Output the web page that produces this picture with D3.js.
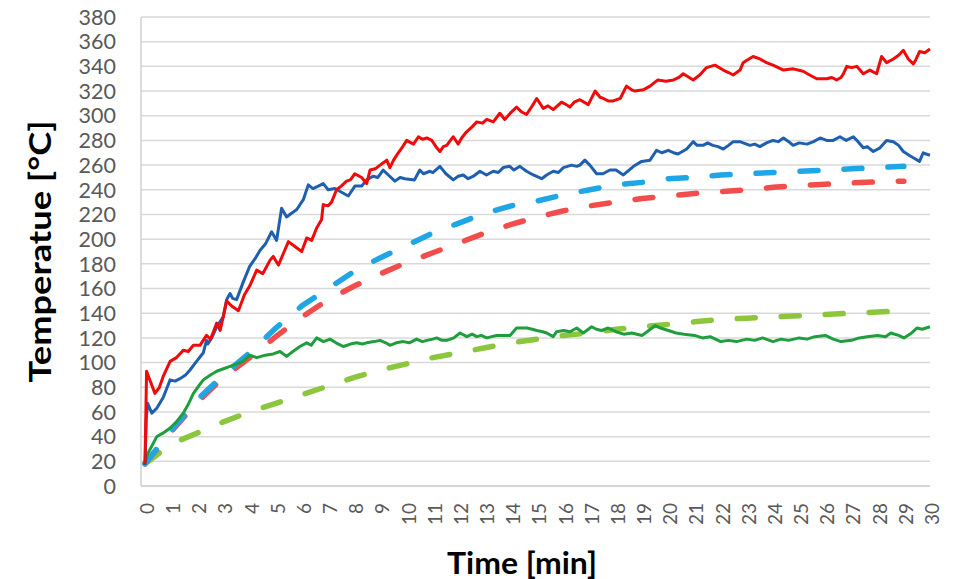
<!DOCTYPE html>
<html>
<head>
<meta charset="utf-8">
<script src="https://cdn.jsdelivr.net/npm/d3@7"></script>
<style>
  body { margin: 0; background: #fff; }
  svg text { font-family: Lato, "Open Sans", sans-serif; }
</style>
</head>
<body>
<div id="chart"></div>
<script>
// time [min] -> temperature [°C]
const redMeasured = [[0,18],[0.06,93],[0.2,85],[0.38,75],[0.55,80],[0.7,89],[0.96,101],[1.2,104],[1.46,110],[1.65,109],[1.85,114],[2.1,114],[2.35,122],[2.5,119],[2.6,124],[2.74,132],[2.87,126],[3.0,138],[3.12,150],[3.3,146],[3.57,142],[3.8,155],[4.0,162],[4.27,175],[4.5,172],[4.78,183],[4.9,186],[5.1,179],[5.28,188],[5.48,198],[5.73,194],[5.99,190],[6.18,201],[6.37,199],[6.56,209],[6.75,216],[6.81,228],[7.0,227],[7.13,230],[7.32,240],[7.5,243],[7.7,247],[7.85,248],[8.02,253],[8.28,250],[8.47,245],[8.6,256],[8.8,257],[8.98,260],[9.24,264],[9.36,258],[9.5,264],[9.68,270],[9.85,275],[10.0,280],[10.26,277],[10.45,283],[10.6,281],[10.77,282],[10.96,280],[11.15,274],[11.27,271],[11.4,275],[11.53,276],[11.78,283],[11.97,277],[12.1,282],[12.29,287],[12.5,291],[12.68,295],[12.9,294],[13.06,297],[13.31,295],[13.56,302],[13.75,297],[14.0,303],[14.2,307],[14.4,303],[14.58,301],[14.8,308],[14.97,314],[15.22,306],[15.4,308],[15.6,305],[15.92,311],[16.1,309],[16.24,307],[16.4,311],[16.62,313],[16.94,309],[17.2,320],[17.39,315],[17.52,314],[17.7,312],[17.9,312],[18.16,314],[18.4,324],[18.6,321],[18.72,320],[19.04,321],[19.3,324],[19.6,329],[19.9,328],[20.2,329],[20.4,331],[20.57,334],[20.8,331],[20.95,329],[21.2,333],[21.46,339],[21.78,341],[22.1,337],[22.3,335],[22.48,333],[22.74,337],[22.86,343],[23.0,345],[23.24,348],[23.5,346],[23.75,343],[24.0,341],[24.2,339],[24.4,337],[24.77,338],[25.15,336],[25.4,333],[25.67,330],[26.05,330],[26.25,331],[26.43,329],[26.6,331],[26.69,334],[26.82,340],[27.0,339],[27.2,340],[27.45,334],[27.7,337],[27.96,334],[28.15,348],[28.34,343],[28.6,346],[28.8,349],[28.98,353],[29.17,346],[29.36,342],[29.45,345],[29.6,352],[29.8,351],[30,354]];

const blueMeasured = [[0,17],[0.05,55],[0.1,67],[0.26,59],[0.45,63],[0.7,72],[0.85,80],[0.96,86],[1.15,85],[1.34,87],[1.55,90],[1.72,94],[1.97,101],[2.23,108],[2.35,118],[2.4,115],[2.55,120],[2.74,129],[2.99,137],[3.12,151],[3.25,156],[3.35,152],[3.5,151],[3.75,165],[4.0,178],[4.2,184],[4.4,191],[4.6,196],[4.84,206],[5.03,199],[5.22,225],[5.41,218],[5.6,221],[5.8,224],[6.05,232],[6.24,244],[6.42,241],[6.62,243],[6.81,245],[7.0,240],[7.26,241],[7.51,238],[7.77,235],[8.02,243],[8.28,243],[8.47,248],[8.72,251],[8.9,250],[9.1,256],[9.3,252],[9.55,247],[9.75,250],[9.93,249],[10.3,248],[10.5,256],[10.64,253],[10.89,255],[11.0,254],[11.27,259],[11.5,253],[11.78,248],[11.97,251],[12.16,252],[12.35,249],[12.55,251],[12.8,255],[13.05,252],[13.31,255],[13.5,254],[13.69,258],[13.94,259],[14.1,256],[14.33,259],[14.58,255],[14.84,252],[15.16,249],[15.35,252],[15.6,255],[15.8,254],[15.99,258],[16.3,260],[16.5,259],[16.62,260],[16.81,264],[17.0,260],[17.26,253],[17.5,253],[17.77,256],[18.0,256],[18.28,252],[18.5,256],[18.67,259],[18.98,263],[19.3,264],[19.55,272],[19.75,270],[20.0,272],[20.2,270],[20.37,269],[20.7,273],[20.95,279],[21.1,276],[21.33,276],[21.5,278],[21.7,276],[21.9,275],[22.1,273],[22.3,276],[22.48,279],[22.74,279],[22.86,278],[23.12,276],[23.3,277],[23.5,275],[23.75,278],[24.0,280],[24.2,279],[24.4,282],[24.6,279],[24.77,276],[25.0,278],[25.3,277],[25.55,279],[25.8,282],[26.05,280],[26.3,280],[26.56,283],[26.8,280],[27.07,283],[27.25,279],[27.45,274],[27.6,275],[27.83,271],[28.09,274],[28.34,280],[28.6,279],[28.8,276],[28.98,271],[29.2,268],[29.36,266],[29.6,263],[29.74,270],[29.85,269],[30,268]];

const greenMeasured = [[0,18],[0.1,26],[0.2,30],[0.45,40],[0.7,43],[0.96,47],[1.2,52],[1.46,59],[1.65,66],[1.85,75],[2.05,81],[2.23,86],[2.5,90],[2.74,93],[3.0,95],[3.25,97],[3.5,99],[3.75,101],[4.0,106],[4.27,104],[4.6,106],[4.9,107],[5.16,109],[5.41,105],[5.65,109],[5.92,113],[6.18,116],[6.35,114],[6.56,120],[6.82,117],[7.07,119],[7.3,116],[7.58,113],[7.85,115],[8.09,116],[8.3,115],[8.47,116],[8.75,117],[8.98,118],[9.2,116],[9.36,114],[9.6,116],[9.87,117],[10.1,116],[10.38,119],[10.6,117],[10.77,118],[11.0,119],[11.15,120],[11.35,118],[11.53,118],[11.8,120],[12.04,124],[12.3,121],[12.5,123],[12.68,121],[12.85,122],[13.06,120],[13.25,121],[13.44,122],[13.7,122],[13.95,122],[14.2,128],[14.4,128],[14.6,128],[14.8,127],[14.97,126],[15.2,125],[15.35,124],[15.6,121],[15.73,125],[16.0,126],[16.24,125],[16.5,128],[16.75,124],[17.07,129],[17.25,127],[17.45,126],[17.7,128],[18.0,125],[18.3,123],[18.6,124],[19.0,122],[19.25,126],[19.5,130],[19.7,128],[20.0,126],[20.3,124],[20.6,123],[21.0,122],[21.3,120],[21.6,121],[22.0,117],[22.3,118],[22.6,117],[23.0,119],[23.3,118],[23.6,120],[24.0,117],[24.3,119],[24.6,118],[25.0,120],[25.3,119],[25.6,121],[26.0,122],[26.3,119],[26.6,117],[27.0,118],[27.3,120],[27.6,121],[28.0,122],[28.3,121],[28.5,124],[28.8,122],[29.0,120],[29.3,124],[29.5,128],[29.7,127],[30,129]];

// simulated curves, one value per minute
const modelMinutes = [0,1,2,3,4,5,6,7,8,9,10,11,12,13,14,15,16,17,18,19,20,21,22,23,24,25,26,27,28,29];
const blueModel  = [18,45,70,90,108,128,146,160,174,185,195,205,213,221,227,231,236,240,244,246,249,250,252,253,254,255,256,257,258,259];
const redModel   = [18,44,68,88,104,121,137,151,162,172,181,189,197,205,212,218,223,227,230,233,235,237,238.5,240,242,243.5,244.5,245.5,246.5,247];
const greenModel = [18,34,43,52,60,67,74,81,88,94,99,104,108,112,116,119,122,124,127,129,131,133,135,136,137,138,139,140,141,142];

const xTicks = d3.range(0, 31);
const yTicks = d3.range(0, 381, 20);

const width = 967, height = 579;
const margin = { left: 145, right: 37, top: 17, bottom: 93 };

const svg = d3.select("#chart").append("svg")
  .attr("width", width)
  .attr("height", height);

const x = d3.scaleLinear().domain([0, 30]).range([margin.left, width - margin.right]);
const y = d3.scaleLinear().domain([0, 380]).range([height - margin.bottom, margin.top]);

// horizontal grid
svg.append("g")
  .selectAll("line")
  .data(yTicks.filter(d => d > 0))
  .enter()
  .append("line")
  .attr("x1", x(0) - 4)
  .attr("x2", x(30))
  .attr("y1", d => y(d))
  .attr("y2", d => y(d))
  .attr("stroke", "#d9d9d9")
  .attr("stroke-width", 1.5);

// axis lines
svg.append("line")
  .attr("x1", x(0) - 4).attr("x2", x(0) - 4)
  .attr("y1", y(380)).attr("y2", y(0))
  .attr("stroke", "#d0d0d0").attr("stroke-width", 1.5);
svg.append("line")
  .attr("x1", x(0) - 4).attr("x2", x(30))
  .attr("y1", y(0)).attr("y2", y(0))
  .attr("stroke", "#c8c8c8").attr("stroke-width", 1.5);

// y tick labels
svg.append("g")
  .selectAll("text")
  .data(yTicks)
  .enter()
  .append("text")
  .attr("x", 116)
  .attr("y", d => y(d))
  .attr("dy", "0.36em")
  .attr("text-anchor", "end")
  .attr("font-size", 21.5)
  .attr("fill", "#595959")
  .text(d => d);

// x tick labels, rotated
svg.append("g")
  .selectAll("text")
  .data(xTicks)
  .enter()
  .append("text")
  .attr("transform", d => `translate(${x(d) + 2},${503}) rotate(-90)`)
  .attr("dy", "0.36em")
  .attr("text-anchor", "end")
  .attr("font-size", 19)
  .attr("fill", "#595959")
  .text(d => d);

const line = d3.line()
  .x(d => x(d[0]))
  .y(d => y(d[1]));

const dashed = [
  { values: greenModel, color: "#8cc63e" },
  { values: redModel, color: "#f24d4d" },
  { values: blueModel, color: "#1fa6e6" }
];

const solid = [
  { values: greenMeasured, color: "#1e9e3c" },
  { values: blueMeasured, color: "#1f5fb0" },
  { values: redMeasured, color: "#f00a0a" }
];

svg.append("g")
  .selectAll("path")
  .data(dashed)
  .enter()
  .append("path")
  .attr("d", s => line(modelMinutes.map((m, i) => [m, s.values[i]])))
  .attr("fill", "none")
  .attr("stroke", s => s.color)
  .attr("stroke-width", 5.5)
  .attr("stroke-linecap", "round")
  .attr("stroke-dasharray", "18,26");

svg.append("g")
  .selectAll("path")
  .data(solid)
  .enter()
  .append("path")
  .attr("d", s => line(s.values))
  .attr("fill", "none")
  .attr("stroke", s => s.color)
  .attr("stroke-width", 3)
  .attr("stroke-linejoin", "round");

// axis titles
svg.append("text")
  .attr("transform", `translate(40,${(y(0) + y(380)) / 2}) rotate(-90)`)
  .attr("dy", "0.36em")
  .attr("text-anchor", "middle")
  .attr("font-size", 31)
  .attr("font-weight", "bold")
  .attr("fill", "#000")
  .attr("textLength", 262)
  .attr("lengthAdjust", "spacingAndGlyphs")
  .text("Temperatue [°C]");

svg.append("text")
  .attr("x", 522)
  .attr("y", 574)
  .attr("text-anchor", "middle")
  .attr("font-size", 30)
  .attr("font-weight", "bold")
  .attr("fill", "#000")
  .attr("textLength", 150)
  .attr("lengthAdjust", "spacingAndGlyphs")
  .text("Time [min]");
</script>
</body>
</html>
